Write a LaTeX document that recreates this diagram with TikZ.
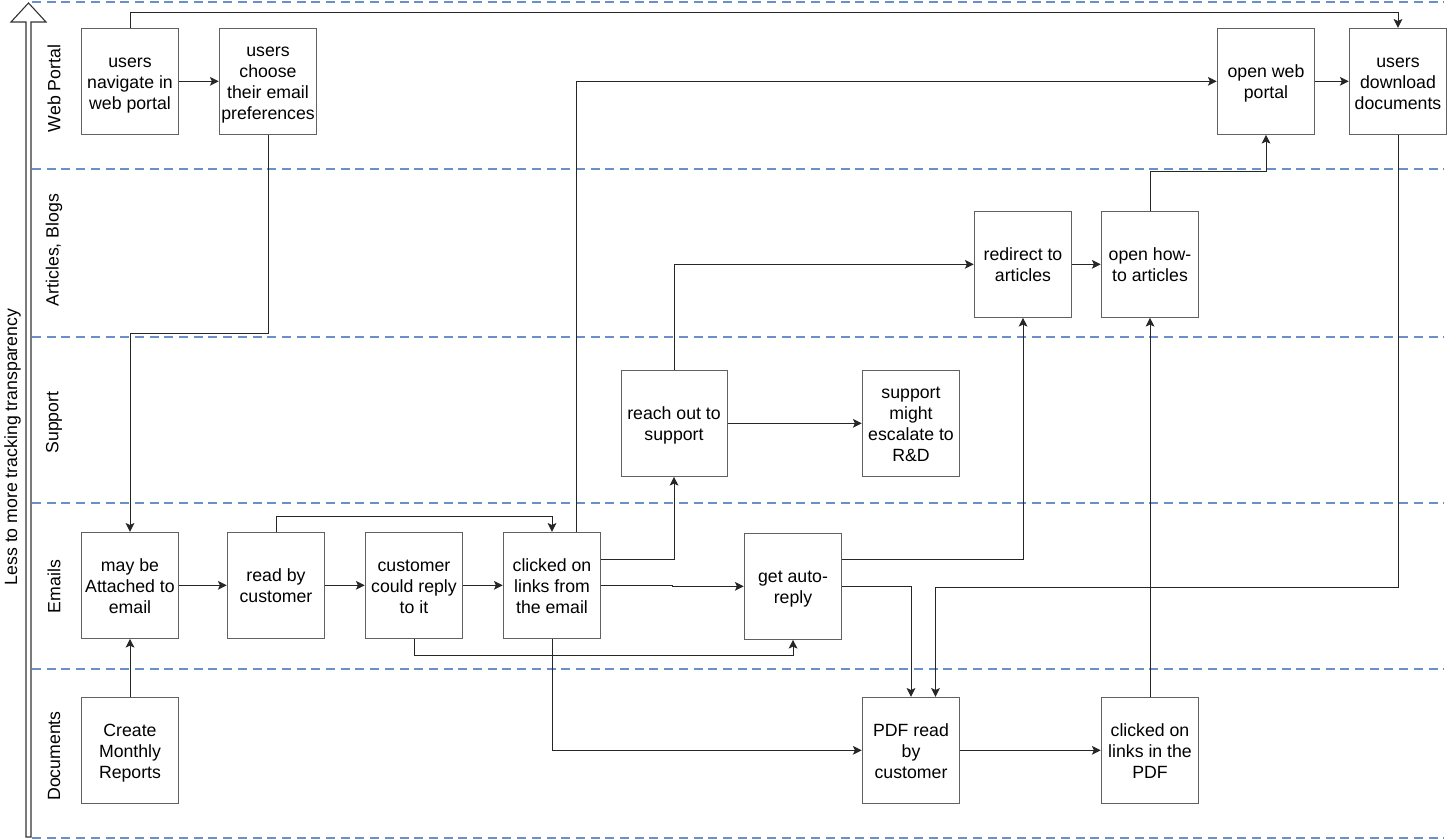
\documentclass[tikz,border=0pt]{standalone}
\usepackage{fontspec}
\setmainfont{Liberation Sans}
\usetikzlibrary{arrows.meta}

\definecolor{lanecolor}{HTML}{6A8FC9}
\newcommand{\boxtext}[1]{\rule{0pt}{10.3pt}#1\rule[-3.15pt]{0pt}{3.15pt}}
\tikzset{
    stepbox/.style={draw=black!62, line width=0.5pt, minimum width=48.8pt, minimum height=53pt,
        inner sep=0pt, align=center, yshift=-0.15pt, font=\fontsize{8.85}{10.5}\selectfont},
    lanelabel/.style={rotate=90, inner sep=0pt, font=\fontsize{8.85}{10.5}\selectfont},
    flow/.style={draw=black!85, line width=0.5pt, -{Stealth[length=4.4pt,width=4.4pt,inset=1pt]}},
    lane/.style={draw=lanecolor, line width=0.95pt, dash pattern=on 4.5pt off 2.85pt}
}

\begin{document}
\begin{tikzpicture}[x=0.5pt, y=-0.5pt]
    \useasboundingbox (0, 0) rectangle (1456, 840);

    % Dashed lanes
    \foreach \y in {2, 169, 337, 503, 669, 838} {
        \draw[lane] (32, \y) -- (1444, \y);
    }

    % Hollow arrow on the left
    \draw[draw=black!80, line width=0.55pt, fill=white] (26, 837) -- (26, 22) -- (11, 22) -- (28.5, 3)
        -- (46, 22) -- (31, 22) -- (31, 837) -- cycle;
    \node[lanelabel] (axis) at (12.5, 447) {Less to more tracking transparency};

    % Lane labels
    \node[lanelabel] (webportal) at (54, 88.5) {Web Portal};
    \node[lanelabel] (articles) at (54, 250) {Articles, Blogs};
    \node[lanelabel] (support) at (54, 422.5) {Support};
    \node[lanelabel] (emails) at (54, 586.5) {Emails};
    \node[lanelabel] (documents) at (54, 756) {Documents};

    % Web portal boxes
    \node[stepbox] (navigate) at (130, 81) {\boxtext{users\\navigate in\\web portal}};
    \node[stepbox] (prefs) at (268, 81) {\boxtext{users\\choose\\their email\\preferences}};
    \node[stepbox] (openweb) at (1266, 81) {\boxtext{open web\\portal}};
    \node[stepbox] (download) at (1398, 81) {\boxtext{users\\download\\documents}};

    % Articles boxes
    \node[stepbox] (redirect) at (1023, 264) {\boxtext{redirect to\\articles}};
    \node[stepbox] (howto) at (1150, 264) {\boxtext{open how-\\to articles}};

    % Support boxes
    \node[stepbox, minimum width=53pt] (reach) at (674, 423) {\boxtext{reach out to\\support}};
    \node[stepbox] (escalate) at (911, 423) {\boxtext{support\\might\\escalate to\\R\&D}};

    % Email boxes
    \node[stepbox] (attach) at (130, 585) {\boxtext{may be\\Attached to\\email}};
    \node[stepbox] (readby) at (276, 585) {\boxtext{read by\\customer}};
    \node[stepbox] (reply) at (414, 585) {\boxtext{customer\\could reply\\to it}};
    \node[stepbox] (clicked) at (552, 585) {\boxtext{clicked on\\links from\\the email}};
    \node[stepbox] (autoreply) at (793, 586) {\boxtext{get auto-\\reply}};

    % Document boxes
    \node[stepbox] (create) at (130, 750) {\boxtext{Create\\Monthly\\Reports}};
    \node[stepbox] (pdf) at (911, 750) {\boxtext{PDF read\\by\\customer}};
    \node[stepbox] (pdflinks) at (1150, 750) {\boxtext{clicked on\\links in the\\PDF}};

    % Straight connectors
    \draw[flow] (navigate) -- (prefs);
    \draw[flow] (openweb) -- (download);
    \draw[flow] (redirect) -- (howto);
    \draw[flow] (reach) -- (escalate);
    \draw[flow] (attach) -- (readby);
    \draw[flow] (readby) -- (reply);
    \draw[flow] (reply) -- (clicked);
    \draw[flow] (clicked.east) -- ++(71, 0) |- (autoreply.west);
    \draw[flow] (create) -- (attach);
    \draw[flow] (pdf) -- (pdflinks);
    \draw[flow] (pdflinks) -- (howto);

    % Connectors with bends
    \draw[flow] (navigate.north) -- ++(0, -15.5) -| (download.north);
    \draw[flow] (prefs.south) -- ++(0, 199) -| (attach.north);
    \draw[flow] ([xshift=12.25pt]clicked.north) |- (openweb.west);
    \draw[flow] (howto.north) -- ++(0, -39) -| (openweb.south);
    \draw[flow] (reach.north) |- (redirect.west);
    \draw[flow] ([yshift=13pt]clicked.east) -| (reach.south);
    \draw[flow] (readby.north) -- ++(0, -15.5) -| (clicked.north);
    \draw[flow] (reply.south) -- ++(0, 17) -| (autoreply.south);
    \draw[flow] (clicked.south) |- (pdf.west);
    \draw[flow] ([yshift=13.25pt]autoreply.east) -| (redirect.south);
    \draw[flow] (autoreply.east) -| (pdf.north);
    \draw[flow] (download.south) -- ++(0, 453) -| ([xshift=12.25pt]pdf.north);
\end{tikzpicture}
\end{document}
